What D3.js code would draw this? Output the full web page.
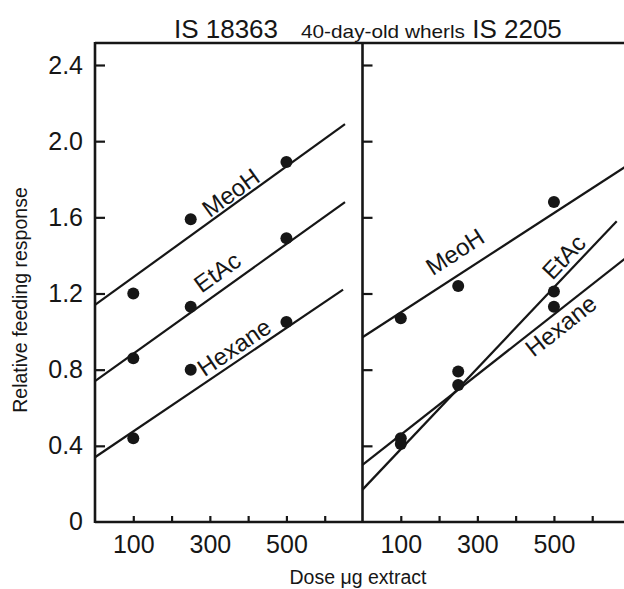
<!DOCTYPE html>
<html>
<head>
<meta charset="utf-8">
<script src="https://cdn.jsdelivr.net/npm/d3@7"></script>
<style>
  html, body { margin: 0; padding: 0; background: #fff; }
  svg { display: block; }
  text { font-family: "Liberation Sans", Arial, Helvetica, sans-serif; fill: #161616; }
</style>
</head>
<body>
<svg id="chart" width="624" height="589"></svg>
<script>
// Doses tested (µg extract) and the relative feeding response for each solvent extract
const doses = [100, 250, 500];
const solvents = ["MeoH", "EtAc", "Hexane"];

// IS 18363
const is18363MeoH = [1.20, 1.59, 1.89];
const is18363EtAc = [0.86, 1.13, 1.49];
const is18363Hexane = [0.44, 0.80, 1.05];

// IS 2205
const is2205MeoH = [1.07, 1.24, 1.68];
const is2205EtAc = [0.44, 0.79, 1.21];
const is2205Hexane = [0.41, 0.72, 1.13];

// Fitted response lines, as [dose, response] at each end
const is18363MeoHFit = [[0, 1.14], [653, 2.09]];
const is18363EtAcFit = [[0, 0.74], [653, 1.68]];
const is18363HexaneFit = [[0, 0.34], [648, 1.22]];
const is2205MeoHFit = [[0, 0.97], [690, 1.87]];
const is2205EtAcFit = [[0, 0.17], [664, 1.58]];
const is2205HexaneFit = [[0, 0.30], [690, 1.39]];

// Axis ticks and labels
const yTicks = [0, 0.4, 0.8, 1.2, 1.6, 2.0, 2.4];
const xTicks = [100, 200, 300, 400, 500, 600];
const xTickLabels = [100, 300, 500];
const panelTitles = ["IS 18363", "IS 2205"];
const centreTitle = "40-day-old wherls";
const yTitle = "Relative feeding response";
const xTitle = "Dose \u03bcg extract";

const panels = [
  { title: panelTitles[0], x0: 95,
    values: [is18363MeoH, is18363EtAc, is18363Hexane],
    fits: [is18363MeoHFit, is18363EtAcFit, is18363HexaneFit],
    // where each solvent name sits along its line, and baseline offset from it
    labels: [{ dose: 372, off: -3 }, { dose: 346, off: -9 }, { dose: 383, off: -5 }] },
  { title: panelTitles[1], x0: 362.5,
    values: [is2205MeoH, is2205EtAc, is2205Hexane],
    fits: [is2205MeoHFit, is2205EtAcFit, is2205HexaneFit],
    labels: [{ dose: 272, off: -13 }, { dose: 552, off: -5.5 }, { dose: 497, off: 21.5 }] }
];

const svg = d3.select("#chart");
const ink = "#161616";
const yTop = 43, yBottom = 522;
const panelWidth = 268;

const y = d3.scaleLinear().domain([0, 2.4]).range([yBottom, 65]);

// Frame: top rule, bottom rule, left axis and the panel divider
svg.append("line").attr("x1", 95).attr("x2", 624).attr("y1", yTop).attr("y2", yTop)
  .attr("stroke", ink).attr("stroke-width", 2.6);
svg.append("line").attr("x1", 95).attr("x2", 624).attr("y1", yBottom).attr("y2", yBottom)
  .attr("stroke", ink).attr("stroke-width", 2.6);

panels.forEach((p, pi) => {
  const x = d3.scaleLinear().domain([0, 700]).range([p.x0, p.x0 + panelWidth]);
  const g = svg.append("g");

  g.append("line").attr("x1", p.x0).attr("x2", p.x0).attr("y1", yTop - 1).attr("y2", yBottom + 1)
    .attr("stroke", ink).attr("stroke-width", 2.6);

  // y ticks point into the panel; only the first panel carries labels
  const yAxis = d3.axisLeft(y).tickValues(yTicks.filter(v => v > 0)).tickSize(-10).tickPadding(12)
    .tickFormat(pi === 0 ? d3.format(".1f") : () => "");
  g.append("g").attr("transform", `translate(${p.x0},0)`).call(yAxis)
    .call(a => a.select(".domain").remove())
    .call(a => a.selectAll("line").attr("stroke", ink).attr("stroke-width", 2.2))
    .call(a => a.selectAll("text").style("font-size", "25px").attr("fill", ink));
  if (pi === 0) {
    g.append("text").attr("x", p.x0 - 12).attr("y", y(0)).attr("dy", "0.32em")
      .attr("text-anchor", "end").style("font-size", "25px").text("0");
  }

  const xAxis = d3.axisBottom(x).tickValues(xTicks).tickSize(-6).tickPadding(13)
    .tickFormat(d => xTickLabels.includes(d) ? d : "");
  g.append("g").attr("transform", `translate(0,${yBottom})`).call(xAxis)
    .call(a => a.select(".domain").remove())
    .call(a => a.selectAll("line").attr("stroke", ink).attr("stroke-width", 2.2))
    .call(a => a.selectAll("text").style("font-size", "25px").attr("fill", ink));

  // Fitted lines
  const line = d3.line().x(d => x(d[0])).y(d => y(d[1]));
  p.fits.forEach(f => {
    g.append("path").attr("d", line(f)).attr("fill", "none")
      .attr("stroke", ink).attr("stroke-width", 2.2);
  });

  // Observed points
  p.values.forEach(vals => {
    g.selectAll(null).data(doses.map((d, i) => [d, vals[i]])).enter().append("circle")
      .attr("cx", d => x(d[0])).attr("cy", d => y(d[1])).attr("r", 6).attr("fill", ink);
  });

  // Solvent names written along their lines
  p.fits.forEach((f, si) => {
    const lab = p.labels[si];
    const [a, b] = f;
    const t = (lab.dose - a[0]) / (b[0] - a[0]);
    const v = a[1] + t * (b[1] - a[1]);
    const ang = Math.atan2(y(b[1]) - y(a[1]), x(b[0]) - x(a[0])) * 180 / Math.PI;
    g.append("text")
      .attr("transform", `translate(${x(lab.dose)},${y(v)}) rotate(${ang})`)
      .attr("x", 0).attr("y", lab.off)
      .attr("text-anchor", "middle").style("font-size", "24px")
      .text(solvents[si]);
  });
});

// Titles
svg.append("text").attr("x", 226).attr("y", 38).attr("text-anchor", "middle")
  .style("font-size", "26px").text(panelTitles[0]);
svg.append("text").attr("x", 517).attr("y", 38).attr("text-anchor", "middle")
  .style("font-size", "26px").text(panelTitles[1]);
svg.append("text").attr("x", 383).attr("y", 38).attr("text-anchor", "middle")
  .style("font-size", "19px").attr("textLength", 164).attr("lengthAdjust", "spacingAndGlyphs")
  .text(centreTitle);

// Axis titles
svg.append("text").attr("transform", "translate(27,300) rotate(-90)")
  .attr("text-anchor", "middle").style("font-size", "19.5px").text(yTitle);
svg.append("text").attr("x", 358).attr("y", 584).attr("text-anchor", "middle")
  .style("font-size", "19.5px").text(xTitle);
</script>
</body>
</html>
